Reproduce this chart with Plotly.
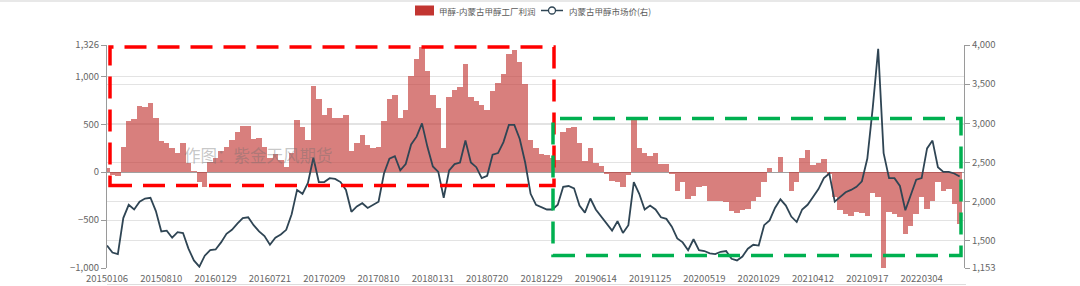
import plotly.graph_objects as go

# ---------------- data ----------------
tick_labels = ["20150106", "20150810", "20160129", "20160721", "20170209", "20170810",
               "20180131", "20180720", "20181229", "20190614", "20191125", "20200519",
               "20201029", "20210412", "20210917", "20220304"]
tick_positions = [0, 10, 20, 30, 40, 50, 60, 70, 80, 90, 100, 110, 120, 130, 140, 150]

profit = [40, -30, -40, 260, 530, 550, 690, 680, 720, 560,
          320, 300, 250, 200, 300, 100, 10, -100, -150, 110,
          150, 220, 260, 330, 420, 480, 480, 350, 360, 260,
          150, 190, 130, 50, 200, 540, 470, 330, 900, 760,
          600, 670, 560, 560, 600, 220, 300, 390, 280, 250,
          260, 530, 760, 800, 560, 650, 1000, 1180, 1300, 1050,
          800, 670, 250, 780, 860, 890, 1130, 780, 740, 700,
          650, 850, 930, 1020, 1230, 1270, 1150, 920, 335, 250,
          190, 180, 150, 130, 420, 460, 475, 300, 120, 250,
          100, 60, -20, -90, -100, -160, -30, 560, 250, 200,
          170, 200, 90, 90, -20, -200, -100, -280, -250, -160,
          -140, -300, -300, -300, -310, -405, -430, -400, -380, -300,
          -264, -100, 40, 0, 158, 0, -200, -100, 150, 230,
          70, 100, 140, -20, -264, -400, -440, -460, -420, -430,
          -460, -220, -260, -1000, -420, -440, -470, -650, -560, -440,
          -264, -380, -300, -100, -200, -180, -330, -545]

price = [1440, 1350, 1330, 1790, 1960, 1900, 2000, 2040, 2050, 1880,
         1620, 1630, 1540, 1610, 1600, 1400, 1250, 1170, 1310, 1380,
         1390, 1480, 1590, 1640, 1720, 1790, 1800, 1700, 1620, 1560,
         1450, 1540, 1580, 1640, 1840, 2150, 2100, 2240, 2560, 2250,
         2250, 2300, 2290, 2250, 2150, 1870, 1940, 1980, 1920, 1960,
         2000, 2360, 2550, 2580, 2400, 2480, 2730, 2830, 3000, 2700,
         2450, 2380, 2050, 2400, 2480, 2500, 2780, 2500, 2440, 2300,
         2330, 2600, 2620, 2760, 2980, 2980, 2800, 2500, 2100, 1960,
         1930, 1900, 1900, 1960, 2190, 2200, 2170, 1950, 1860, 2040,
         1900, 1810, 1720, 1630, 1750, 1600, 1700, 2250, 2100, 1900,
         1950, 1900, 1800, 1780, 1680, 1530, 1480, 1380, 1520, 1380,
         1370, 1340, 1330, 1360, 1370, 1270, 1250, 1300, 1400, 1450,
         1440, 1700, 1760, 1920, 2030, 1950, 1810, 1740, 1900, 1960,
         2060, 2160, 2300, 2360, 2000, 2060, 2120, 2150, 2190, 2260,
         2550, 3200, 3950, 2620, 2300, 2300, 2200, 1890, 2100, 2280,
         2300, 2680, 2780, 2440, 2380, 2380, 2360, 2320]

left_ticks = [-1000, -500, 0, 500, 1000, 1326]
right_ticks = [1153, 1500, 2000, 2500, 3000, 3500, 4000]

series_bar_name = "甲醇-内蒙古甲醇工厂利润"
series_line_name = "内蒙古甲醇市场价(右)"
watermark = "作图：紫金天风期货"

# ---------------- layout helpers ----------------
W_PX, H_PX = 1080, 286
L, R, T, B = 107, 964, 45, 268
PW, PH = R - L, B - T


def px(x):
    return (x - L) / PW


def py(y):
    return (B - y) / PH


x_idx = list(range(len(profit)))
FONT = "Noto Sans CJK SC, Liberation Sans, sans-serif"
GRID = "#e3e3e3"
AXIS = "#9a9a9a"
LABEL = "#666666"

fig = go.Figure()
fig.add_trace(go.Bar(
    x=x_idx, y=profit, name=series_bar_name, width=1.0,
    marker=dict(color="rgba(194,53,49,0.63)", line=dict(width=0)),
    showlegend=False, yaxis="y"))
fig.add_trace(go.Scatter(
    x=x_idx, y=price, name=series_line_name, mode="lines",
    line=dict(color="#2f4554", width=1.8), showlegend=False, yaxis="y2"))

shapes = []
# dashed highlight boxes
shapes.append(dict(type="rect", xref="paper", yref="paper",
                   x0=px(110), x1=px(554), y0=py(185.5), y1=py(47),
                   line=dict(color="#ff0000", width=3.5, dash="22px,11px"),
                   fillcolor="rgba(0,0,0,0)", layer="above"))
shapes.append(dict(type="rect", xref="paper", yref="paper",
                   x0=px(553), x1=px(961), y0=py(255.5), y1=py(118.5),
                   line=dict(color="#00b050", width=3.5, dash="22px,11px"),
                   fillcolor="rgba(0,0,0,0)", layer="above"))
# legend symbols
shapes.append(dict(type="rect", xref="paper", yref="paper",
                   x0=px(415), x1=px(434), y0=py(15.5), y1=py(5.5),
                   line=dict(width=0), fillcolor="#c23531", layer="above"))
shapes.append(dict(type="line", xref="paper", yref="paper",
                   x0=px(541), x1=px(563), y0=py(10.5), y1=py(10.5),
                   line=dict(color="#2f4554", width=1.5), layer="above"))
shapes.append(dict(type="circle", xref="paper", yref="paper",
                   x0=px(548.5), x1=px(555.5), y0=py(14), y1=py(7),
                   line=dict(color="#2f4554", width=1.3), fillcolor="white", layer="above"))
# top page border and bottom separator
shapes.append(dict(type="rect", xref="paper", yref="paper",
                   x0=px(0), x1=px(1080), y0=py(2), y1=py(0),
                   line=dict(width=0), fillcolor="#e8e8e8", layer="above"))
shapes.append(dict(type="line", xref="paper", yref="paper",
                   x0=px(107), x1=px(966), y0=py(284.5), y1=py(284.5),
                   line=dict(color="#dddddd", width=1), layer="above"))

annotations = [
    dict(xref="paper", yref="paper", x=px(437), y=py(10.5), xanchor="left", yanchor="middle",
         text=series_bar_name, showarrow=False, font=dict(size=8.5, color="#5a5a5a", family=FONT)),
    dict(xref="paper", yref="paper", x=px(567), y=py(10.5), xanchor="left", yanchor="middle",
         text=series_line_name, showarrow=False, font=dict(size=8.5, color="#5a5a5a", family=FONT)),
    dict(xref="paper", yref="paper", x=px(258), y=py(155), xanchor="center", yanchor="middle",
         text=watermark, showarrow=False,
         font=dict(size=16.5, color="rgba(110,110,110,0.4)", family=FONT)),
]

fig.update_layout(
    width=W_PX, height=H_PX,
    margin=dict(l=L, r=W_PX - R, t=T, b=H_PX - B, pad=0),
    paper_bgcolor="white", plot_bgcolor="white",
    bargap=0, showlegend=False,
    font=dict(family=FONT, size=9.5, color=LABEL),
    shapes=shapes, annotations=annotations,
    xaxis=dict(range=[0, len(profit) - 0.2], tickmode="array", tickvals=tick_positions,
               ticktext=tick_labels, showgrid=False, zeroline=False, showline=False,
               ticks="outside", ticklen=2, tickcolor="rgba(0,0,0,0)",
               tickfont=dict(size=9.5, color=LABEL), automargin=False),
    yaxis=dict(range=[-1000, 1326], tickmode="array", tickvals=left_ticks,
               tickformat=",d", showgrid=True, gridcolor=GRID, gridwidth=1,
               zeroline=True, zerolinecolor="#a0a0a0", zerolinewidth=1,
               showline=True, linecolor=AXIS, linewidth=1, ticks="outside",
               ticklen=5, tickcolor=AXIS, tickfont=dict(size=9.5, color=LABEL),
               automargin=False),
    yaxis2=dict(range=[1153, 4000], tickmode="array", tickvals=right_ticks,
                tickformat=",d", overlaying="y", side="right", showgrid=True,
                gridcolor=GRID, gridwidth=1, zeroline=False, showline=True,
                linecolor=AXIS, linewidth=1, ticks="outside", ticklen=5,
                tickcolor=AXIS, tickfont=dict(size=9.5, color=LABEL), automargin=False),
)

fig.write_html("out.html")
